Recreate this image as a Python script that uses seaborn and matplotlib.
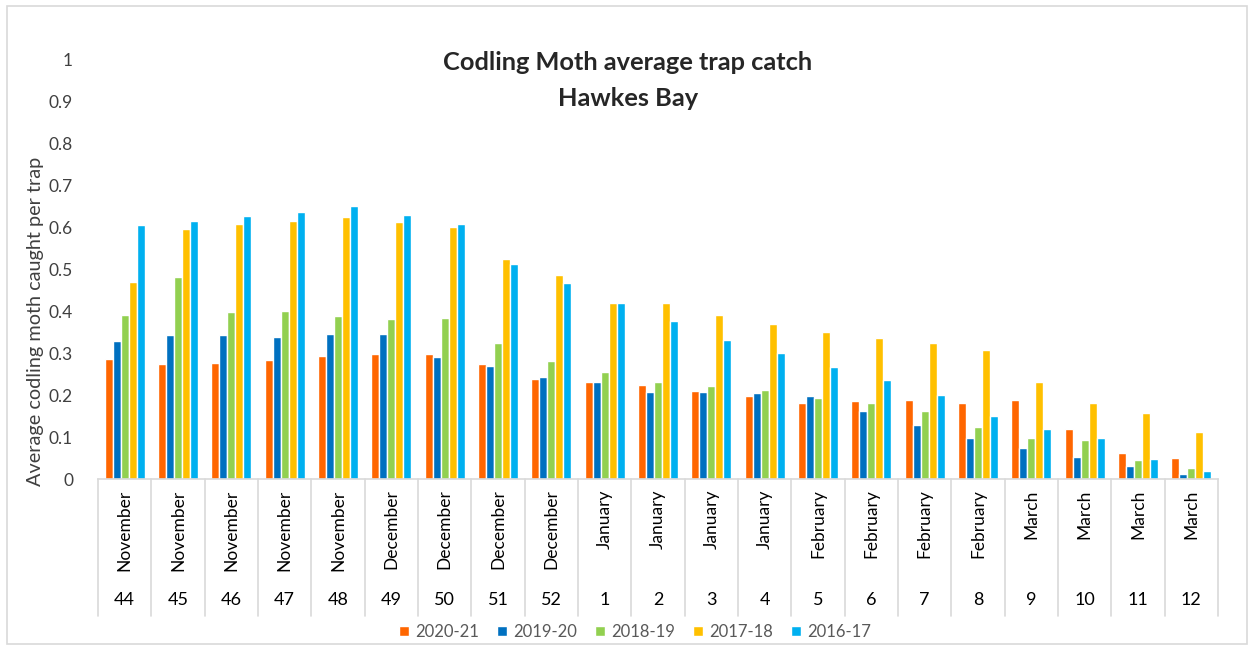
import matplotlib
matplotlib.use("Agg")
import matplotlib.pyplot as plt
import matplotlib.transforms as mtransforms
from matplotlib.patches import Rectangle
import seaborn as sns
import pandas as pd

weeks = ["44", "45", "46", "47", "48", "49", "50", "51", "52", "1", "2", "3",
         "4", "5", "6", "7", "8", "9", "10", "11", "12"]
months = ["November"] * 5 + ["December"] * 4 + ["January"] * 4 + ["February"] * 4 + ["March"] * 4
seasons = ["2020-21", "2019-20", "2018-19", "2017-18", "2016-17"]

s2020_21 = [0.286, 0.275, 0.277, 0.284, 0.294, 0.298, 0.298, 0.274, 0.239, 0.232, 0.225,
            0.210, 0.197, 0.180, 0.185, 0.187, 0.180, 0.187, 0.118, 0.062, 0.051]
s2019_20 = [0.329, 0.343, 0.342, 0.338, 0.346, 0.345, 0.291, 0.270, 0.244, 0.230, 0.208,
            0.206, 0.205, 0.197, 0.161, 0.128, 0.097, 0.073, 0.052, 0.030, 0.011]
s2018_19 = [0.390, 0.481, 0.397, 0.400, 0.387, 0.380, 0.383, 0.323, 0.281, 0.255, 0.230,
            0.221, 0.213, 0.192, 0.181, 0.161, 0.123, 0.097, 0.092, 0.046, 0.027]
s2017_18 = [0.468, 0.596, 0.607, 0.615, 0.623, 0.611, 0.599, 0.525, 0.485, 0.419, 0.419,
            0.391, 0.369, 0.350, 0.336, 0.325, 0.308, 0.232, 0.180, 0.158, 0.113]
s2016_17 = [0.605, 0.615, 0.627, 0.636, 0.650, 0.629, 0.608, 0.513, 0.467, 0.418, 0.376,
            0.332, 0.299, 0.267, 0.236, 0.200, 0.150, 0.119, 0.097, 0.048, 0.019]
series = [s2020_21, s2019_20, s2018_19, s2017_18, s2016_17]
colors = ["#FF6600", "#0070C0", "#92D050", "#FFC000", "#00B0F0"]

rows = []
for season, vals in zip(seasons, series):
    for w, v in zip(weeks, vals):
        rows.append({"week": w, "season": season, "value": v})
df = pd.DataFrame(rows)

sns.set_style("white")
plt.rcParams["font.family"] = ["Lato", "DejaVu Sans"]

fig = plt.figure(figsize=(12.55, 6.5), dpi=100)
ax = fig.add_axes([98 / 1255, 1 - 479 / 650, (1218 - 98) / 1255, 420 / 650])

sns.barplot(data=df, x="week", y="value", hue="season", order=weeks, hue_order=seasons,
            palette=colors, width=0.75, edgecolor="white", linewidth=1, ax=ax,
            saturation=1)

handles, labels = ax.get_legend_handles_labels()
if ax.legend_ is not None:
    ax.legend_.remove()

ax.set_ylim(0, 1)
ax.set_xlim(-0.5, len(weeks) - 0.5)
ax.set_yticks([i / 10 for i in range(11)])
ax.set_yticklabels(["0"] + [f"{i/10:g}" for i in range(1, 10)] + ["1"],
                   fontsize=12.5, color="#404040")
ax.tick_params(axis="y", length=0, pad=18)
ax.set_xticks([])
ax.set_xlabel("")
ax.set_ylabel("Average codling moth caught per trap", fontsize=14.3,
              color="#404040", labelpad=0)
ax.yaxis.set_label_coords(-54 / 1120, (479 - 321) / 420)
for sp in ["top", "right", "left"]:
    ax.spines[sp].set_visible(False)
ax.spines["bottom"].set_color("#D9D9D9")
ax.spines["bottom"].set_linewidth(1.2)

trans = mtransforms.blended_transform_factory(ax.transData, ax.transAxes)
for i in range(len(weeks) + 1):
    ax.plot([i - 0.5, i - 0.5], [0, -0.325], color="#D9D9D9", lw=1.2,
            transform=trans, clip_on=False)
for i, (m, w) in enumerate(zip(months, weeks)):
    ax.text(i, -0.025, m, rotation=90, ha="center", va="top", fontsize=12.5,
            color="#000000", transform=trans)
    ax.text(i, -0.288, w, ha="center", va="center", fontsize=13,
            color="#000000", transform=trans)

fig.text(628 / 1255, 1 - 63 / 650, "Codling Moth average trap catch", ha="center",
         va="center", fontsize=18.3, fontweight="bold")
fig.text(628 / 1255, 1 - 99 / 650, "Hawkes Bay", ha="center", va="center",
         fontsize=18.3, fontweight="bold")

fig.legend(handles, labels, loc="center", bbox_to_anchor=(635 / 1255, 1 - 632 / 650),
           ncol=5, frameon=False, handlelength=0.6, handleheight=0.6,
           handletextpad=0.35, columnspacing=1.1, prop={"size": 12},
           labelcolor="#595959")

fig.patches.append(Rectangle((7 / 1255, 6 / 650), 1240 / 1255, 638 / 650,
                             transform=fig.transFigure, fill=False,
                             edgecolor="#D9D9D9", lw=1.2))

fig.savefig("out.png", dpi=100, facecolor="white")
